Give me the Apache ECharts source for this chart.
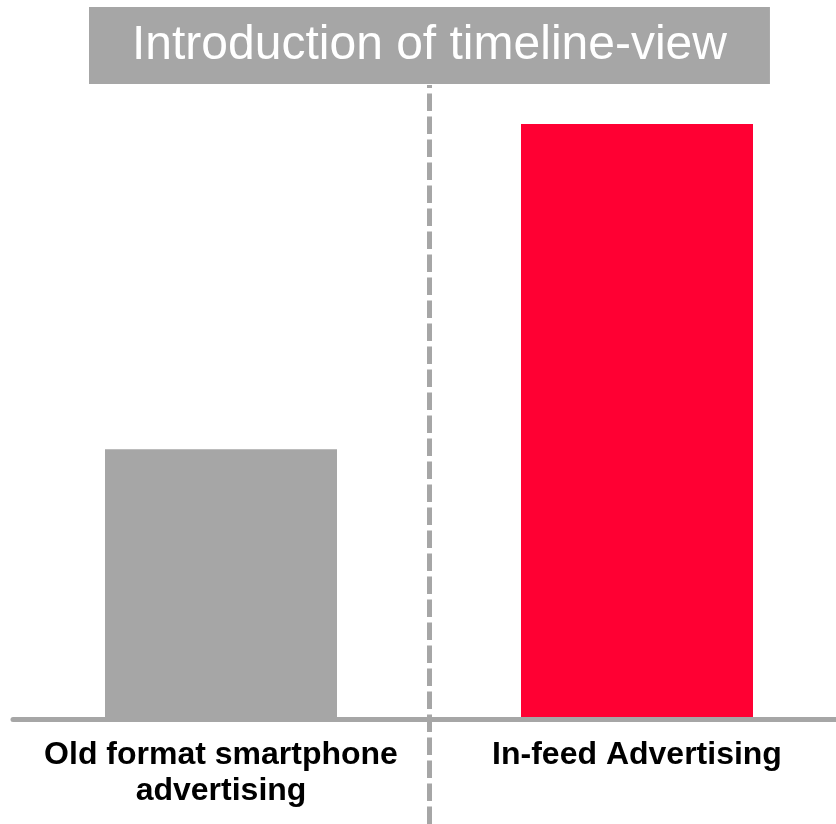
<!DOCTYPE html>
<html>
<head>
<meta charset="utf-8">
<script src="https://cdn.jsdelivr.net/npm/echarts@6/dist/echarts.min.js"></script>
<style>
html,body{margin:0;padding:0;background:#fff;}
#chart{width:836px;height:824px;}
</style>
</head>
<body>
<div id="chart"></div>
<script>
const titleText = 'Introduction of timeline-view';
const categories = ['Old format smartphone\nadvertising', 'In-feed Advertising'];
const values = [45.4, 100];
const barColors = ['#a6a6a6', '#ff0033'];

const chart = echarts.init(document.getElementById('chart'), null, {renderer: 'canvas'});
chart.setOption({
  backgroundColor: '#ffffff',
  animation: false,
  title: {
    text: titleText,
    left: 89,
    top: 7,
    padding: [0, 43],
    backgroundColor: '#a6a6a6',
    textStyle: {
      color: '#ffffff',
      fontSize: 48,
      fontWeight: 'normal',
      fontFamily: '"Liberation Sans", Arial, sans-serif',
      lineHeight: 77
    }
  },
  grid: {left: 13, width: 832, top: 85, bottom: 0, containLabel: false, outerBoundsMode: 'none'},
  xAxis: {
    type: 'category',
    position: 'bottom',
    offset: -104.5,
    data: categories,
    boundaryGap: true,
    axisLine: {show: true, onZero: false, lineStyle: {color: '#a6a6a6', width: 5}},
    axisTick: {show: false},
    axisLabel: {
      interval: 0,
      hideOverlap: false,
      margin: 18,
      color: '#000000',
      fontSize: 32,
      fontWeight: 'bold',
      lineHeight: 36,
      fontFamily: '"Liberation Sans", Arial, sans-serif'
    },
    splitLine: {
      show: true,
      interval: 0,
      showMinLine: false,
      showMaxLine: false,
      lineStyle: {color: '#a6a6a6', width: 5, type: [17.5, 5.5], dashOffset: 14.5}
    },
    z: 5
  },
  yAxis: {
    type: 'value',
    min: -17.55,
    max: 106.55,
    show: false,
    splitLine: {show: false}
  },
  series: [{
    type: 'bar',
    barWidth: 232,
    data: values.map((v, i) => ({value: v, itemStyle: {color: barColors[i]}})),
    z: 2
  }]
});
</script>
</body>
</html>
